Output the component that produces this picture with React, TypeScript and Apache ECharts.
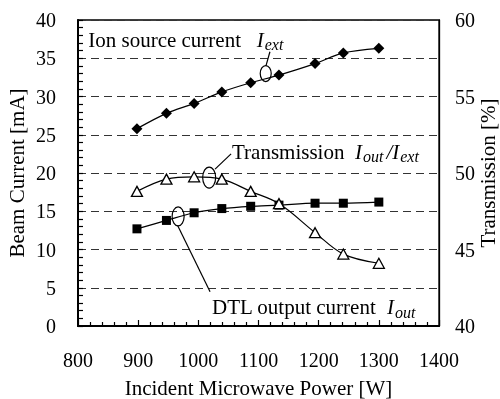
import React, { useEffect, useRef } from "react";
import * as echarts from "echarts";

// Incident microwave power [W]
const power = [898, 947, 993, 1039, 1087, 1134, 1194, 1241, 1300];
// Ion source current I_ext [mA]
const ionSource = [25.8, 27.8, 29.1, 30.6, 31.8, 32.8, 34.3, 35.7, 36.3];
// DTL output current I_out [mA]
const dtlOutput = [12.7, 13.8, 14.8, 15.35, 15.65, 15.8, 16.05, 16.05, 16.2];
// Transmission I_out / I_ext [%]
const transmission = [48.8, 49.6, 49.75, 49.6, 48.8, 48.0, 46.1, 44.7, 44.1];

const FONT = "Liberation Serif";

const zip = (xs: number[], ys: number[]) => xs.map((x, i) => [x, ys[i]]);

export default function App() {
  const ref = useRef<HTMLDivElement>(null);

  useEffect(() => {
    if (!ref.current) return;
    const chart = echarts.init(ref.current, undefined, { renderer: "svg" });
    const axisLabel = { fontFamily: FONT, fontSize: 20, color: "#000" };
    const nameStyle = { fontFamily: FONT, fontSize: 21, color: "#000" };
    chart.setOption({
      animation: false,
      grid: {
        left: 78,
        right: 61,
        top: 20,
        bottom: 73,
        containLabel: false,
        outerBoundsMode: "none",
        show: true,
        borderColor: "#000",
        borderWidth: 1.3,
      },
      xAxis: {
        type: "value",
        min: 800,
        max: 1400,
        interval: 100,
        name: "Incident Microwave Power [W]",
        nameLocation: "middle",
        nameGap: 51,
        nameTextStyle: nameStyle,
        axisLine: { show: true, lineStyle: { color: "#000", width: 2 } },
        axisTick: { show: true, inside: true, length: 6, lineStyle: { color: "#000", width: 1.2 } },
        minorTick: { show: true, splitNumber: 5, length: 4, lineStyle: { color: "#000", width: 1.2 } },
        axisLabel: { ...axisLabel, margin: 24, formatter: (v: number) => String(v) },
        splitLine: { show: false },
      },
      yAxis: [
        {
          type: "value",
          min: 0,
          max: 40,
          interval: 5,
          position: "left",
          name: "Beam Current [mA]",
          nameLocation: "middle",
          nameRotate: 90,
          nameGap: 51,
          nameMoveOverlap: false,
          nameTextStyle: nameStyle,
          axisLine: { show: true, lineStyle: { color: "#000", width: 2 } },
          axisTick: { show: true, inside: true, length: 5, lineStyle: { color: "#000", width: 1.2 } },
          minorTick: { show: true, splitNumber: 5, length: 5, lineStyle: { color: "#000", width: 1.2 } },
          axisLabel: { ...axisLabel, margin: 22, formatter: (v: number) => String(v) },
          splitLine: { show: true, lineStyle: { color: "#333", width: 1, type: [8, 5] } },
        },
        {
          type: "value",
          min: 40,
          max: 60,
          interval: 5,
          position: "right",
          name: "Transmission [%]",
          nameLocation: "middle",
          nameRotate: 90,
          nameGap: 38,
          nameMoveOverlap: false,
          nameTextStyle: nameStyle,
          axisLine: { show: true, lineStyle: { color: "#000", width: 1.3 } },
          axisTick: { show: false },
          axisLabel: { ...axisLabel, margin: 16, formatter: (v: number) => String(v) },
          splitLine: { show: false },
        },
      ],
      series: [
        {
          name: "Ion source current",
          type: "line",
          data: zip(power, ionSource),
          symbol: "diamond",
          symbolSize: 11,
          smooth: 0.3,
          lineStyle: { color: "#000", width: 1.2 },
          itemStyle: { color: "#000" },
        },
        {
          name: "DTL output current",
          type: "line",
          data: zip(power, dtlOutput),
          symbol: "rect",
          symbolSize: 9,
          smooth: 0.3,
          lineStyle: { color: "#000", width: 1.2 },
          itemStyle: { color: "#000" },
        },
        {
          name: "Transmission",
          type: "line",
          yAxisIndex: 1,
          data: zip(power, transmission),
          symbol: "triangle",
          symbolSize: [11, 10],
          smooth: 0.35,
          z: 3,
          lineStyle: { color: "#000", width: 1.2 },
          itemStyle: { color: "#fff", borderColor: "#000", borderWidth: 1.3 },
        },
      ],
    });

    const px = (p: number[]) => chart.convertToPixel({ xAxisIndex: 0, yAxisIndex: 0 }, p) as number[];
    const rich = {
      i: { fontFamily: FONT, fontSize: 21, fontStyle: "italic", fill: "#000" },
      s: { fontFamily: FONT, fontSize: 16, fontStyle: "italic", fill: "#000", padding: [10, 3, 0, 1] },
    };
    const text = (p: number[], t: string) => {
      const [x, y] = px(p);
      return {
        type: "text",
        x,
        y,
        z: 20,
        style: {
          text: t,
          fontFamily: FONT,
          fontSize: 21,
          fill: "#000",
          align: "left",
          verticalAlign: "middle",
          rich,
        },
      };
    };
    const ellipse = (p: number[], rx: number, ry: number) => {
      const [cx, cy] = px(p);
      return {
        type: "ellipse",
        z: 20,
        shape: { cx, cy, rx, ry },
        style: { fill: "none", stroke: "#000", lineWidth: 1.2 },
      };
    };
    const leader = (a: number[], b: number[]) => {
      const [x1, y1] = px(a);
      const [x2, y2] = px(b);
      return {
        type: "line",
        z: 20,
        shape: { x1, y1, x2, y2 },
        style: { stroke: "#000", lineWidth: 1.2 },
      };
    };

    chart.setOption({
      graphic: [
        text([817, 37.4], "Ion source current   {i|I}{s|ext}"),
        ellipse([1112, 33.0], 5.5, 8),
        leader([1112.4, 34.0], [1119, 35.85]),
        text([1056, 22.76], "Transmission  {i|I}{s|out}{i|/I}{s|ext}"),
        ellipse([1018, 19.4], 6.5, 10.5),
        leader([1027.8, 20.5], [1054.4, 22.5]),
        text([1022.8, 2.47], "DTL output current  {i|I}{s|out}"),
        ellipse([966.4, 14.32], 6, 9.5),
        leader([965.6, 13.14], [1019.5, 4.48]),
      ],
    });

    return () => chart.dispose();
  }, []);

  return (
    <div
      ref={ref}
      style={{ position: "fixed", left: 0, top: 0, width: 500, height: 399 }}
    />
  );
}
